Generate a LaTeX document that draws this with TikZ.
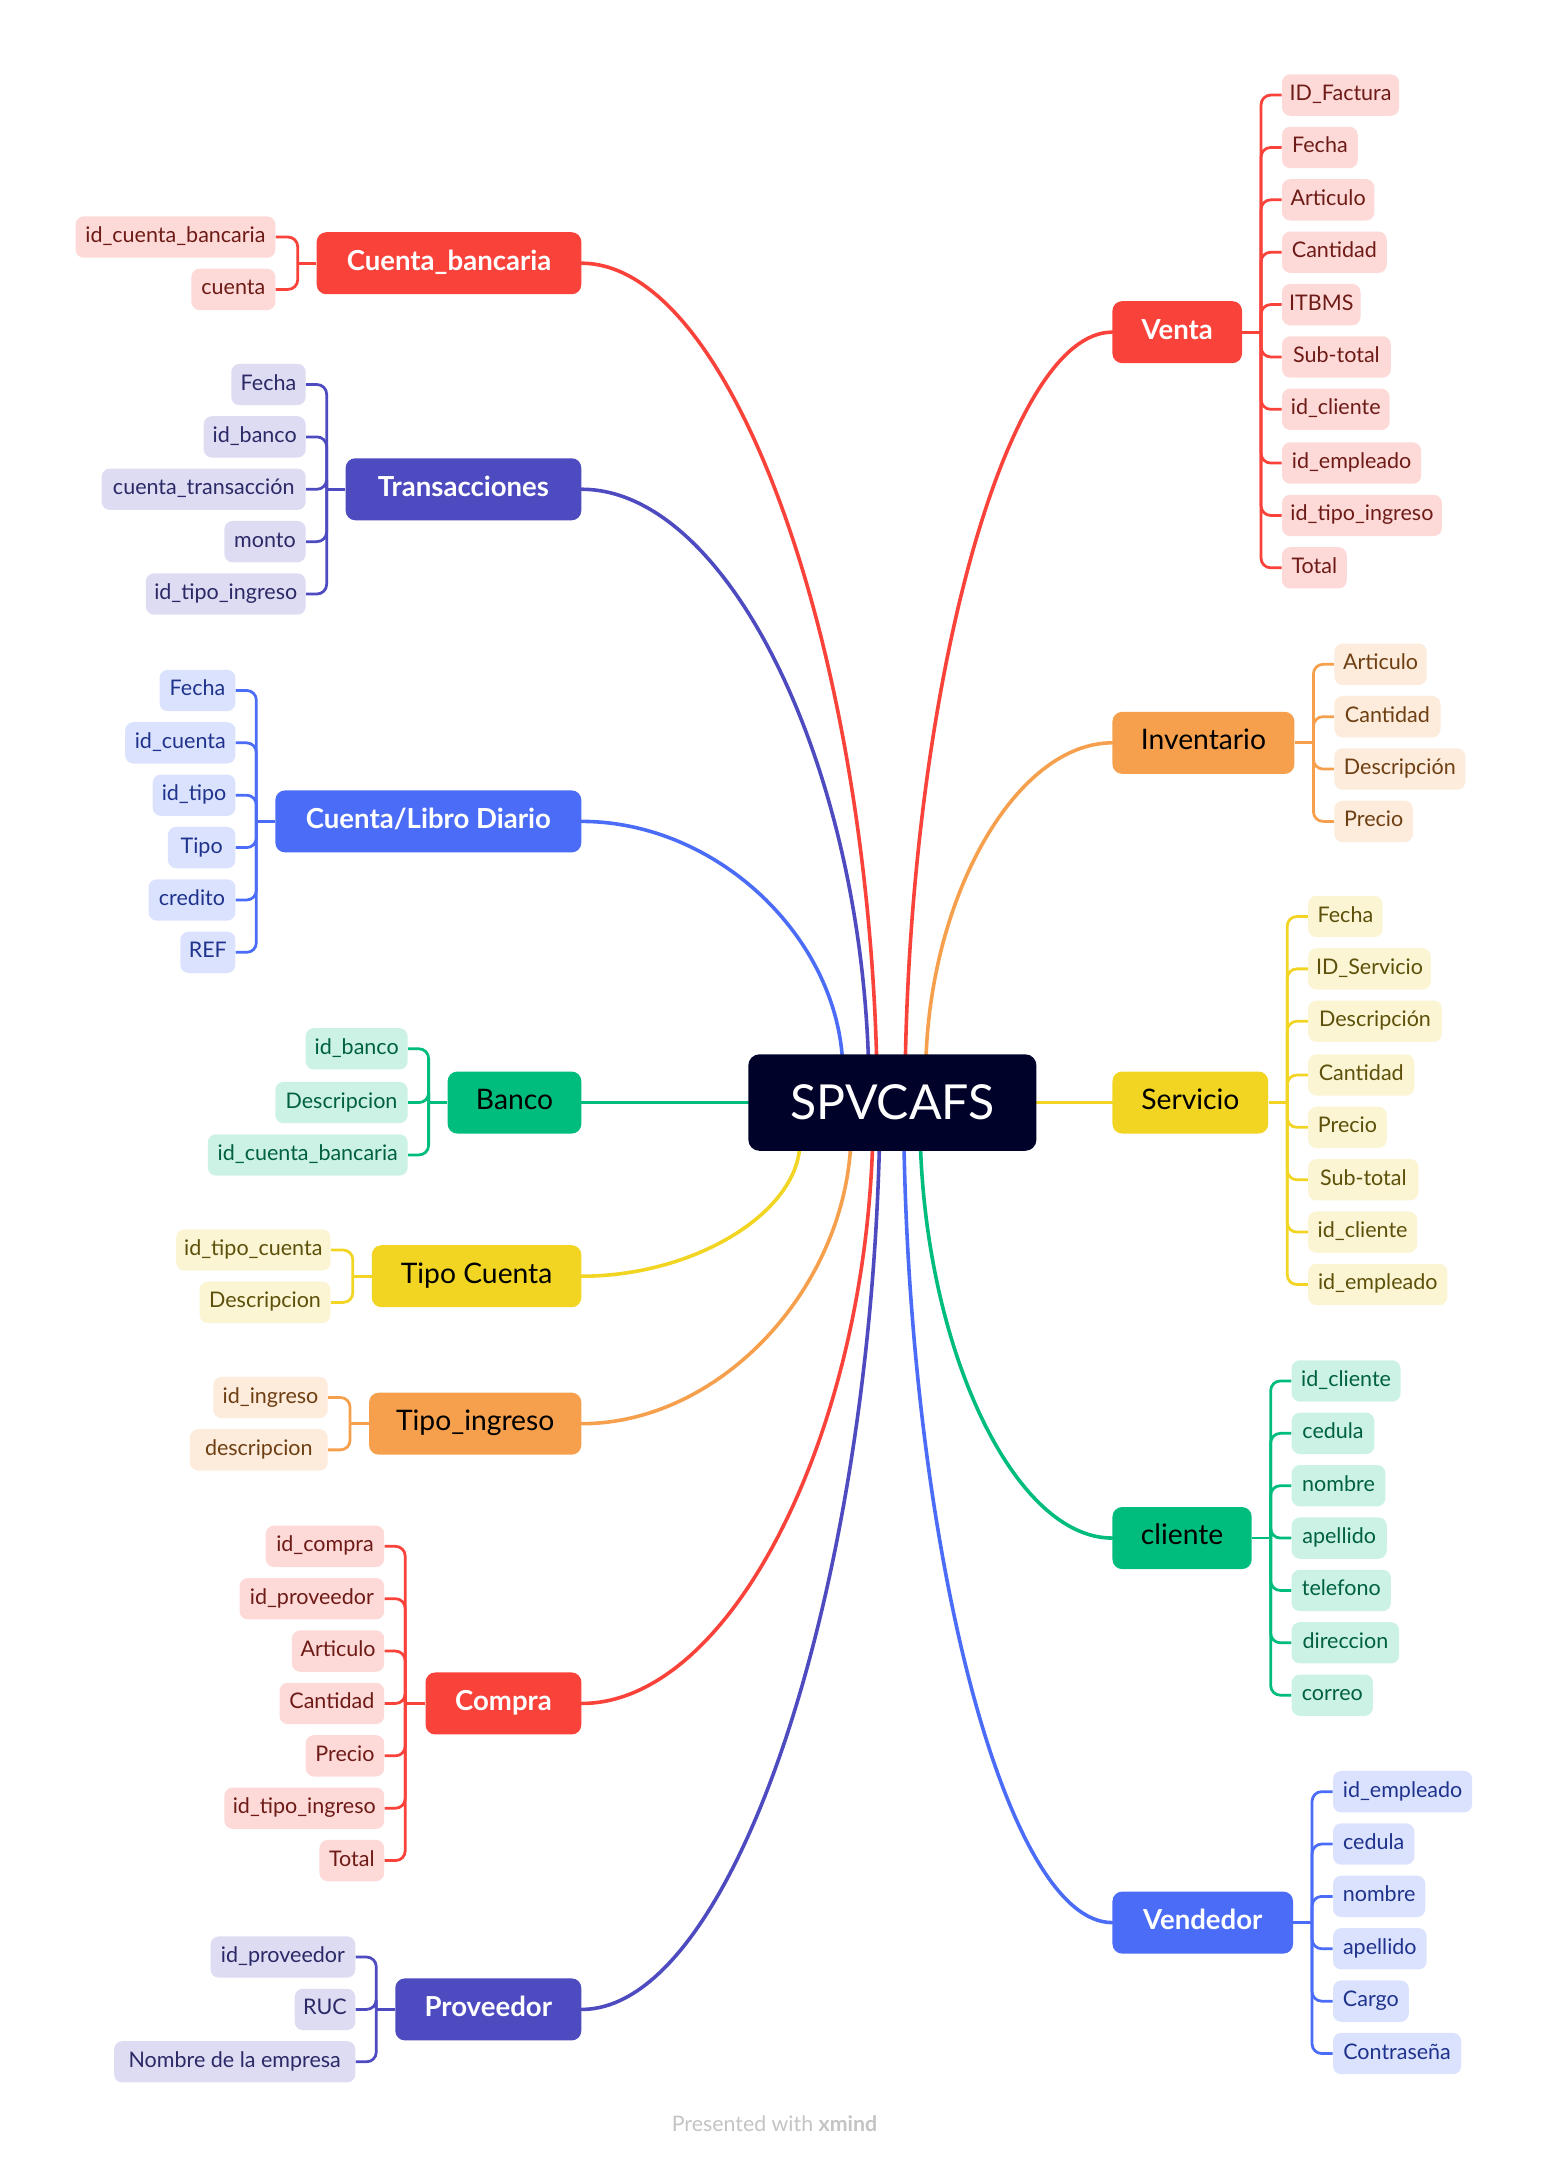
\documentclass[tikz,border=0pt]{standalone}
\usepackage{fontspec}
\setmainfont{Lato}
\pgfdeclarelayer{bg}
\pgfsetlayers{bg,main}
\definecolor{cRed}{HTML}{F9423A}\definecolor{cRedL}{HTML}{FDDAD8}\definecolor{cRedT}{HTML}{6E1B17}
\definecolor{cInd}{HTML}{4E4BC1}\definecolor{cIndL}{HTML}{DDDCF3}\definecolor{cIndT}{HTML}{2B2966}
\definecolor{cBlue}{HTML}{4A6CF7}\definecolor{cBlueL}{HTML}{DBE2FE}\definecolor{cBlueT}{HTML}{1F338C}
\definecolor{cGreen}{HTML}{00BC7D}\definecolor{cGreenL}{HTML}{CCF2E5}\definecolor{cGreenT}{HTML}{00613F}
\definecolor{cYel}{HTML}{F2D523}\definecolor{cYelL}{HTML}{FCF5D3}\definecolor{cYelT}{HTML}{5C500A}
\definecolor{cOra}{HTML}{F6A04D}\definecolor{cOraL}{HTML}{FDEBDC}\definecolor{cOraT}{HTML}{6E3F12}
\definecolor{cRoot}{HTML}{000229}
\definecolor{cFoot}{HTML}{C4C4C4}
\begin{document}
\begin{tikzpicture}[x=1pt,y=-1pt,
  leaf/.style={rounded corners=6pt, minimum height=30pt, inner xsep=3pt, inner ysep=0pt,
    font=\fontsize{15.6}{18}\selectfont, text height=11.5pt, text depth=3.5pt},
  topic/.style={rounded corners=7pt, minimum height=45pt, inner xsep=4pt, inner ysep=0pt,
    font=\fontsize{20.5}{24}\selectfont, text height=14.5pt, text depth=4.5pt},
  rootbox/.style={rounded corners=8pt, fill=cRoot, text=white, minimum width=209pt, minimum height=70pt,
    font=\fontsize{35}{40}\selectfont},
  redT/.style={topic, fill=cRed, text=white, font=\fontsize{20}{24}\selectfont\bfseries},
  indT/.style={topic, fill=cInd, text=white, font=\fontsize{20}{24}\selectfont\bfseries},
  blueT/.style={topic, fill=cBlue, text=white, font=\fontsize{20}{24}\selectfont\bfseries},
  greenT/.style={topic, fill=cGreen, text=black},
  yelT/.style={topic, fill=cYel, text=black},
  oraT/.style={topic, fill=cOra, text=black},
  redL/.style={leaf, fill=cRedL, text=cRedT},
  indL/.style={leaf, fill=cIndL, text=cIndT},
  blueL/.style={leaf, fill=cBlueL, text=cBlueT},
  greenL/.style={leaf, fill=cGreenL, text=cGreenT},
  yelL/.style={leaf, fill=cYelL, text=cYelT},
  oraL/.style={leaf, fill=cOraL, text=cOraT},
  lL/.style={anchor=east},
  rL/.style={anchor=west},
  mainline/.style={line width=2.6pt, line cap=round},
  brk/.style={line width=2pt, rounded corners=7pt}
]
\begin{pgfonlayer}{bg}
\fill[white] (0,0) rectangle (1124,1568);
\end{pgfonlayer}
\useasboundingbox (0,0) rectangle (1124,1568);

% root
\node[rootbox] (root) at (647.5,800) {SPVCAFS};

% ---------- left topics
\node[redT, minimum width=192pt, anchor=east] (cb) at (422,191) {Cuenta\_bancaria};
\node[indT, minimum width=171pt, anchor=east] (tr) at (422,355) {Transacciones};
\node[blueT, minimum width=222pt, anchor=east] (cl) at (422,596) {Cuenta/Libro Diario};
\node[greenT, minimum width=97pt, anchor=east] (ba) at (422,800) {Banco};
\node[yelT, minimum width=152pt, anchor=east] (tc) at (422,926) {Tipo Cuenta};
\node[oraT, minimum width=154pt, anchor=east] (ti) at (422,1033) {Tipo\_ingreso};
\node[redT, minimum width=113pt, anchor=east] (co) at (422,1236) {Compra};
\node[indT, minimum width=135pt, anchor=east] (pr) at (422,1458) {Proveedor};

% ---------- right topics
\node[redT, minimum width=94pt, anchor=west] (ve) at (807,241) {Venta};
\node[oraT, minimum width=132pt, anchor=west] (inv) at (807,539) {Inventario};
\node[yelT, minimum width=113pt, anchor=west] (se) at (807,800) {Servicio};
\node[greenT, minimum width=101pt, anchor=west] (cli) at (807,1116) {cliente};
\node[blueT, minimum width=131pt, anchor=west] (vd) at (807,1395) {Vendedor};

% ---------- leaves: Cuenta_bancaria
\node[redL, lL, minimum width=145pt] (cb1) at (200,172) {id\_cuenta\_bancaria};
\node[redL, lL, minimum width=61pt] (cb2) at (200,210) {cuenta};
% Transacciones
\node[indL, lL, minimum width=54pt] (tr1) at (222,279) {Fecha};
\node[indL, lL, minimum width=74pt] (tr2) at (222,317) {id\_banco};
\node[indL, lL, minimum width=148pt] (tr3) at (222,355) {cuenta\_transacción};
\node[indL, lL, minimum width=59pt] (tr4) at (222,393) {monto};
\node[indL, lL, minimum width=116pt] (tr5) at (222,431) {id\_tipo\_ingreso};
% Cuenta/Libro Diario
\node[blueL, lL, minimum width=55pt] (cl1) at (171,501) {Fecha};
\node[blueL, lL, minimum width=80pt] (cl2) at (171,539) {id\_cuenta};
\node[blueL, lL, minimum width=60pt] (cl3) at (171,577) {id\_tipo};
\node[blueL, lL, minimum width=49pt] (cl4) at (171,615) {Tipo};
\node[blueL, lL, minimum width=63pt] (cl5) at (171,653) {credito};
\node[blueL, lL, minimum width=40pt] (cl6) at (171,691) {REF};
% Banco
\node[greenL, lL, minimum width=74pt] (ba1) at (296,761) {id\_banco};
\node[greenL, lL, minimum width=96pt] (ba2) at (296,800) {Descripcion};
\node[greenL, lL, minimum width=145pt] (ba3) at (296,838) {id\_cuenta\_bancaria};
% Tipo Cuenta
\node[yelL, lL, minimum width=112pt] (tc1) at (240,907) {id\_tipo\_cuenta};
\node[yelL, lL, minimum width=95pt] (tc2) at (240,945) {Descripcion};
% Tipo_ingreso
\node[oraL, lL, minimum width=83pt] (ti1) at (238,1014) {id\_ingreso};
\node[oraL, lL, minimum width=100pt] (ti2) at (238,1052) {descripcion};
% Compra
\node[redL, lL, minimum width=86pt] (co1) at (279,1122) {id\_compra};
\node[redL, lL, minimum width=105pt] (co2) at (279,1160) {id\_proveedor};
\node[redL, lL, minimum width=67pt] (co3) at (279,1198) {Articulo};
\node[redL, lL, minimum width=76pt] (co4) at (279,1236) {Cantidad};
\node[redL, lL, minimum width=57pt] (co5) at (279,1274) {Precio};
\node[redL, lL, minimum width=116pt] (co6) at (279,1312) {id\_tipo\_ingreso};
\node[redL, lL, minimum width=47pt] (co7) at (279,1350) {Total};
% Proveedor
\node[indL, lL, minimum width=105pt] (pr1) at (258,1420) {id\_proveedor};
\node[indL, lL, minimum width=44pt] (pr2) at (258,1458) {RUC};
\node[indL, lL, minimum width=175pt] (pr3) at (258,1496) {Nombre de la empresa};

% Venta
\node[redL, rL, minimum width=85pt] (ve1) at (930,69) {ID\_Factura};
\node[redL, rL, minimum width=55pt] (ve2) at (930,107) {Fecha};
\node[redL, rL, minimum width=67pt] (ve3) at (930,145) {Articulo};
\node[redL, rL, minimum width=76pt] (ve4) at (930,183) {Cantidad};
\node[redL, rL, minimum width=57pt] (ve5) at (930,221) {ITBMS};
\node[redL, rL, minimum width=79pt] (ve6) at (930,259) {Sub-total};
\node[redL, rL, minimum width=78pt] (ve7) at (930,297) {id\_cliente};
\node[redL, rL, minimum width=101pt] (ve8) at (930,336) {id\_empleado};
\node[redL, rL, minimum width=116pt] (ve9) at (930,374) {id\_tipo\_ingreso};
\node[redL, rL, minimum width=47pt] (ve10) at (930,412) {Total};
% Inventario
\node[oraL, rL, minimum width=67pt] (in1) at (968,482) {Articulo};
\node[oraL, rL, minimum width=77pt] (in2) at (968,520) {Cantidad};
\node[oraL, rL, minimum width=95pt] (in3) at (968,558) {Descripción};
\node[oraL, rL, minimum width=57pt] (in4) at (968,596) {Precio};
% Servicio
\node[yelL, rL, minimum width=54pt] (se1) at (949,665) {Fecha};
\node[yelL, rL, minimum width=89pt] (se2) at (949,703) {ID\_Servicio};
\node[yelL, rL, minimum width=97pt] (se3) at (949,741) {Descripción};
\node[yelL, rL, minimum width=77pt] (se4) at (949,780) {Cantidad};
\node[yelL, rL, minimum width=57pt] (se5) at (949,818) {Precio};
\node[yelL, rL, minimum width=80pt] (se6) at (949,856) {Sub-total};
\node[yelL, rL, minimum width=79pt] (se7) at (949,894) {id\_cliente};
\node[yelL, rL, minimum width=101pt] (se8) at (949,932) {id\_empleado};
% cliente
\node[greenL, rL, minimum width=79pt] (cl_1) at (937,1002) {id\_cliente};
\node[greenL, rL, minimum width=60pt] (cl_2) at (937,1040) {cedula};
\node[greenL, rL, minimum width=68pt] (cl_3) at (937,1078) {nombre};
\node[greenL, rL, minimum width=69pt] (cl_4) at (937,1116) {apellido};
\node[greenL, rL, minimum width=72pt] (cl_5) at (937,1154) {telefono};
\node[greenL, rL, minimum width=78pt] (cl_6) at (937,1192) {direccion};
\node[greenL, rL, minimum width=59pt] (cl_7) at (937,1230) {correo};
% Vendedor
\node[blueL, rL, minimum width=101pt] (vd1) at (967,1300) {id\_empleado};
\node[blueL, rL, minimum width=59pt] (vd2) at (967,1338) {cedula};
\node[blueL, rL, minimum width=67pt] (vd3) at (967,1376) {nombre};
\node[blueL, rL, minimum width=68pt] (vd4) at (967,1414) {apellido};
\node[blueL, rL, minimum width=55pt] (vd5) at (967,1452) {Cargo};
\node[blueL, rL, minimum width=93pt] (vd6) at (967,1490) {Contraseña};

% footer
\node[font=\fontsize{15.5}{18}\selectfont, text=cFoot] (foot) at (562,1541) {Presented with \textbf{xmind}};

% ---------- connectors
\coordinate (pcb) at (636,765);
\coordinate (ptr) at (630,765);
\coordinate (pcl) at (611,765);
\coordinate (ptc) at (580,835);
\coordinate (pti) at (617,835);
\coordinate (pco) at (633,835);
\coordinate (ppr) at (638,835);
\coordinate (pve) at (657,765);
\coordinate (pin) at (672,765);
\coordinate (pcli) at (668,835);
\coordinate (pvd) at (656,835);

\coordinate (jcb) at (216,191);
\coordinate (jtr) at (237,355);
\coordinate (jcl) at (186,596);
\coordinate (jba) at (311,800);
\coordinate (jtc) at (256,926);
\coordinate (jti) at (254,1033);
\coordinate (jco) at (294,1236);
\coordinate (jpr) at (273,1458);
\coordinate (jve) at (915,241);
\coordinate (jin) at (953,539);
\coordinate (jse) at (934,800);
\coordinate (jcli) at (922,1116);
\coordinate (jvd) at (952,1395);

\begin{pgfonlayer}{bg}
\draw[mainline, cRed] (cb.east) .. controls +(107,0) and +(-9,-304) .. (pcb);
\draw[mainline, cInd] (tr.east) .. controls +(104,0) and +(-8,-217) .. (ptr);
\draw[mainline, cBlue] (cl.east) .. controls +(95,0) and +(-8,-90) .. (pcl);
\draw[mainline, cGreen] (ba.east) -- (root.west);
\draw[mainline, cYel] (tc.east) .. controls +(79,0) and +(-6,48) .. (ptc);
\draw[mainline, cOra] (ti.east) .. controls +(98,0) and +(-8,105) .. (pti);
\draw[mainline, cRed] (co.east) .. controls +(106,0) and +(-8,213) .. (pco);
\draw[mainline, cInd] (pr.east) .. controls +(108,0) and +(-9,330) .. (ppr);
\draw[mainline, cRed] (ve.west) .. controls +(-75,0) and +(6,-278) .. (pve);
\draw[mainline, cOra] (inv.west) .. controls +(-68,0) and +(5,-120) .. (pin);
\draw[mainline, cYel] (se.west) -- (root.east);
\draw[mainline, cGreen] (cli.west) .. controls +(-70,0) and +(6,149) .. (pcli);
\draw[mainline, cBlue] (vd.west) .. controls +(-76,0) and +(6,297) .. (pvd);

% brackets
\draw[brk, cRed] (cb.west) -- (jcb);
\foreach \n in {cb1,cb2} \draw[brk, cRed] (\n.east) -| (jcb);
\draw[brk, cInd] (tr.west) -- (jtr);
\foreach \n in {tr1,tr2,tr3,tr4,tr5} \draw[brk, cInd] (\n.east) -| (jtr);
\draw[brk, cBlue] (cl.west) -- (jcl);
\foreach \n in {cl1,cl2,cl3,cl4,cl5,cl6} \draw[brk, cBlue] (\n.east) -| (jcl);
\draw[brk, cGreen] (ba.west) -- (jba);
\foreach \n in {ba1,ba2,ba3} \draw[brk, cGreen] (\n.east) -| (jba);
\draw[brk, cYel] (tc.west) -- (jtc);
\foreach \n in {tc1,tc2} \draw[brk, cYel] (\n.east) -| (jtc);
\draw[brk, cOra] (ti.west) -- (jti);
\foreach \n in {ti1,ti2} \draw[brk, cOra] (\n.east) -| (jti);
\draw[brk, cRed] (co.west) -- (jco);
\foreach \n in {co1,co2,co3,co4,co5,co6,co7} \draw[brk, cRed] (\n.east) -| (jco);
\draw[brk, cInd] (pr.west) -- (jpr);
\foreach \n in {pr1,pr2,pr3} \draw[brk, cInd] (\n.east) -| (jpr);

\draw[brk, cRed] (ve.east) -- (jve);
\foreach \n in {ve1,ve2,ve3,ve4,ve5,ve6,ve7,ve8,ve9,ve10} \draw[brk, cRed] (\n.west) -| (jve);
\draw[brk, cOra] (inv.east) -- (jin);
\foreach \n in {in1,in2,in3,in4} \draw[brk, cOra] (\n.west) -| (jin);
\draw[brk, cYel] (se.east) -- (jse);
\foreach \n in {se1,se2,se3,se4,se5,se6,se7,se8} \draw[brk, cYel] (\n.west) -| (jse);
\draw[brk, cGreen] (cli.east) -- (jcli);
\foreach \n in {cl_1,cl_2,cl_3,cl_4,cl_5,cl_6,cl_7} \draw[brk, cGreen] (\n.west) -| (jcli);
\draw[brk, cBlue] (vd.east) -- (jvd);
\foreach \n in {vd1,vd2,vd3,vd4,vd5,vd6} \draw[brk, cBlue] (\n.west) -| (jvd);
\end{pgfonlayer}
\end{tikzpicture}
\end{document}
